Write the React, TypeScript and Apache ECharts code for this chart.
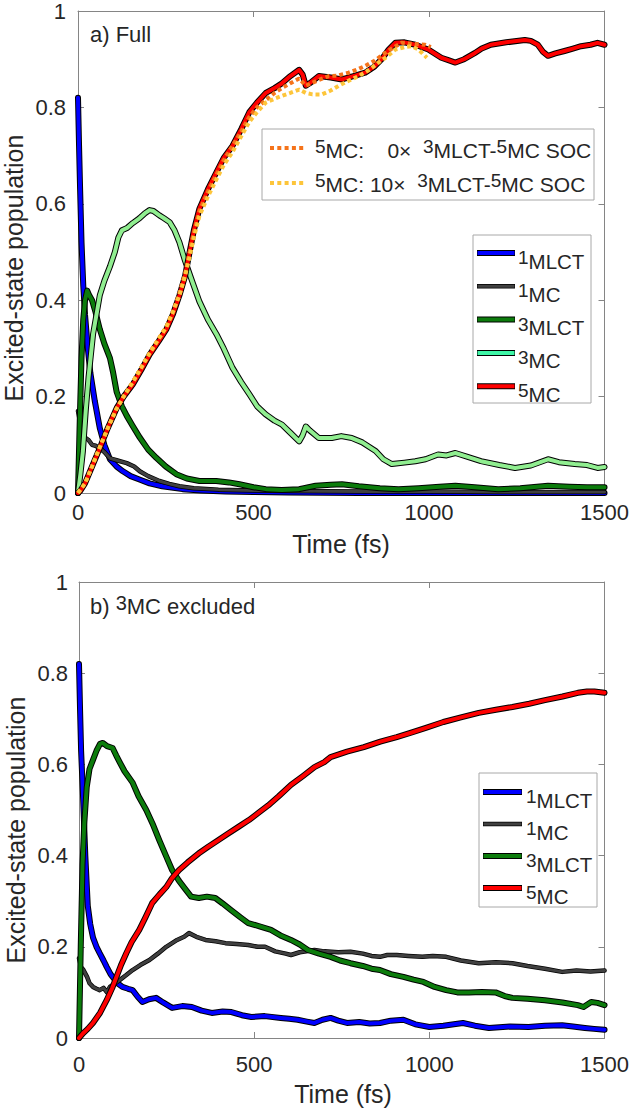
import React, { useEffect, useRef } from 'react';
import * as echarts from 'echarts';

// ---------- tick values ----------
const X_TICK_MIN = 0;
const X_TICK_MAX = 1500;
const X_TICK_STEP = 500;
const Y_TICK_MIN = 0;
const Y_TICK_MAX = 1;
const Y_TICK_STEP = 0.2;

// ---------- legend labels ----------
const STATE_LABELS_A = [['1', 'MLCT'], ['1', 'MC'], ['3', 'MLCT'], ['3', 'MC'], ['5', 'MC']];
const STATE_LABELS_B = [['1', 'MLCT'], ['1', 'MC'], ['3', 'MLCT'], ['5', 'MC']];

// ---------- panel a) Full : [time fs, population] ----------
const mlct1A = [[0,0.82],[3,0.72],[6,0.63],[10,0.52],[15,0.43],[20,0.37],[28,0.30],[35,0.25],[48,0.19],[62,0.135],[75,0.10],[91,0.07],[110,0.055],[128,0.045],[150,0.035],[175,0.028],[204,0.02],[240,0.014],[298,0.008],[350,0.005],[420,0.003],[500,0.002],[600,0.001],[800,0],[1000,0],[1200,0],[1500,0]];
const mc1A = [[0,0.17],[5,0.15],[10,0.135],[20,0.115],[30,0.11],[40,0.10],[50,0.098],[62,0.093],[75,0.085],[91,0.072],[110,0.068],[139,0.062],[160,0.055],[176,0.045],[200,0.035],[232,0.025],[260,0.019],[289,0.014],[330,0.01],[400,0.007],[500,0.005],[600,0.004],[800,0.003],[1000,0.003],[1200,0.002],[1500,0.002]];
const mlct3A = [[0,0],[5,0.15],[10,0.28],[15,0.36],[20,0.40],[26,0.42],[32,0.41],[40,0.40],[50,0.375],[62,0.34],[75,0.31],[91,0.28],[100,0.25],[110,0.21],[125,0.18],[139,0.16],[155,0.14],[176,0.115],[200,0.09],[223,0.073],[250,0.055],[280,0.039],[310,0.03],[346,0.025],[394,0.025],[430,0.022],[460,0.018],[500,0.012],[535,0.008],[580,0.006],[630,0.008],[677,0.015],[720,0.017],[752,0.018],[800,0.014],[860,0.01],[913,0.008],[970,0.01],[1030,0.013],[1075,0.015],[1130,0.012],[1197,0.008],[1260,0.01],[1339,0.015],[1400,0.013],[1450,0.012],[1500,0.012]];
const mc3A = [[0,0],[7,0.04],[14,0.087],[22,0.17],[30,0.24],[43,0.33],[55,0.38],[62,0.41],[75,0.44],[91,0.47],[105,0.50],[115,0.53],[125,0.545],[140,0.55],[156,0.56],[175,0.57],[190,0.58],[204,0.587],[215,0.585],[232,0.576],[245,0.57],[261,0.562],[275,0.545],[289,0.52],[303,0.486],[320,0.45],[346,0.397],[370,0.36],[394,0.33],[415,0.30],[440,0.26],[465,0.23],[488,0.205],[510,0.18],[535,0.163],[560,0.15],[581,0.142],[605,0.125],[630,0.107],[640,0.12],[649,0.138],[660,0.13],[686,0.114],[723,0.114],[750,0.118],[780,0.114],[810,0.105],[848,0.087],[870,0.07],[894,0.06],[930,0.063],[961,0.066],[990,0.07],[1026,0.08],[1050,0.078],[1075,0.083],[1110,0.075],[1148,0.066],[1200,0.058],[1245,0.052],[1290,0.057],[1339,0.07],[1370,0.064],[1415,0.06],[1450,0.058],[1480,0.052],[1500,0.054]];
const mc5A = [[0,0],[6,0.004],[20,0.02],[40,0.055],[62,0.093],[85,0.135],[110,0.176],[130,0.2],[156,0.225],[180,0.255],[204,0.287],[230,0.315],[252,0.34],[270,0.37],[289,0.41],[305,0.45],[318,0.5],[330,0.545],[346,0.59],[370,0.63],[394,0.665],[415,0.695],[440,0.72],[465,0.755],[488,0.79],[510,0.81],[535,0.83],[560,0.84],[581,0.85],[605,0.865],[630,0.878],[640,0.868],[649,0.845],[660,0.85],[686,0.865],[720,0.862],[752,0.858],[785,0.865],[818,0.872],[845,0.885],[865,0.9],[885,0.92],[904,0.934],[930,0.935],[961,0.93],[998,0.92],[1035,0.903],[1055,0.898],[1075,0.893],[1100,0.9],[1131,0.913],[1150,0.922],[1176,0.93],[1220,0.935],[1273,0.94],[1290,0.938],[1310,0.93],[1325,0.915],[1339,0.907],[1360,0.912],[1386,0.917],[1410,0.922],[1433,0.927],[1460,0.93],[1480,0.934],[1500,0.93]];
const mc5Soc0A = [[0,0],[20,0.02],[40,0.055],[62,0.095],[85,0.135],[110,0.175],[130,0.2],[156,0.23],[180,0.26],[204,0.29],[230,0.32],[252,0.345],[270,0.375],[289,0.415],[305,0.455],[318,0.5],[330,0.54],[346,0.585],[370,0.625],[394,0.66],[415,0.69],[440,0.72],[465,0.75],[488,0.78],[510,0.80],[535,0.815],[560,0.83],[581,0.84],[605,0.85],[630,0.86],[649,0.845],[680,0.855],[714,0.865],[740,0.866],[771,0.872],[800,0.88],[818,0.886],[845,0.897],[875,0.913],[900,0.925],[922,0.934],[950,0.932],[989,0.93],[1005,0.925]];
const mc5Soc10A = [[0,0],[20,0.02],[40,0.055],[62,0.095],[85,0.135],[110,0.175],[130,0.2],[156,0.23],[180,0.26],[204,0.29],[230,0.32],[252,0.345],[270,0.375],[289,0.41],[305,0.45],[318,0.49],[330,0.53],[346,0.575],[370,0.615],[394,0.65],[415,0.68],[440,0.707],[465,0.74],[488,0.77],[510,0.79],[535,0.81],[560,0.818],[581,0.824],[605,0.83],[630,0.837],[649,0.83],[668,0.827],[695,0.827],[720,0.835],[743,0.845],[770,0.855],[800,0.865],[830,0.878],[856,0.893],[880,0.905],[904,0.92],[930,0.925],[951,0.927],[970,0.92],[980,0.913],[994,0.903]];

// ---------- panel b) 3MC excluded ----------
const mlct1B = [[0,0.82],[3,0.72],[6,0.63],[11,0.54],[18,0.40],[25,0.29],[32,0.25],[40,0.22],[50,0.2],[59,0.186],[70,0.17],[79,0.156],[90,0.14],[96,0.134],[110,0.12],[124,0.112],[140,0.108],[153,0.105],[168,0.09],[181,0.079],[200,0.085],[220,0.088],[240,0.078],[266,0.066],[295,0.07],[322,0.068],[350,0.06],[379,0.055],[410,0.058],[435,0.057],[465,0.05],[492,0.046],[530,0.048],[576,0.044],[600,0.042],[624,0.04],[650,0.036],[672,0.033],[695,0.04],[718,0.044],[740,0.038],[765,0.033],[800,0.035],[830,0.032],[859,0.033],[890,0.038],[926,0.04],[960,0.03],[1000,0.024],[1040,0.027],[1070,0.03],[1096,0.033],[1130,0.027],[1170,0.022],[1230,0.025],[1283,0.024],[1330,0.027],[1379,0.028],[1410,0.025],[1444,0.022],[1470,0.02],[1500,0.018]];
const mc1B = [[0,0.175],[6,0.155],[12,0.15],[23,0.134],[30,0.12],[40,0.112],[50,0.108],[59,0.105],[70,0.11],[80,0.1],[88,0.112],[100,0.118],[116,0.127],[135,0.138],[153,0.149],[175,0.16],[201,0.171],[225,0.185],[249,0.2],[280,0.215],[300,0.222],[314,0.23],[335,0.222],[361,0.215],[390,0.212],[418,0.208],[450,0.206],[483,0.204],[510,0.2],[531,0.2],[560,0.19],[590,0.185],[605,0.182],[630,0.188],[672,0.193],[700,0.19],[740,0.188],[775,0.189],[810,0.185],[835,0.18],[859,0.178],[880,0.182],[907,0.182],[940,0.18],[980,0.178],[1010,0.18],[1048,0.178],[1090,0.17],[1141,0.164],[1190,0.166],[1237,0.164],[1280,0.158],[1330,0.152],[1379,0.145],[1420,0.148],[1460,0.146],[1500,0.148]];
const mlct3B = [[0,0],[5,0.2],[10,0.38],[15,0.47],[22,0.55],[30,0.59],[40,0.61],[50,0.63],[60,0.645],[68,0.647],[80,0.64],[96,0.636],[106,0.62],[116,0.605],[130,0.585],[153,0.56],[170,0.53],[192,0.5],[210,0.47],[229,0.434],[248,0.4],[266,0.368],[285,0.345],[305,0.325],[320,0.31],[342,0.307],[365,0.31],[389,0.307],[410,0.295],[435,0.28],[460,0.265],[483,0.252],[515,0.245],[548,0.237],[575,0.225],[605,0.215],[630,0.205],[653,0.193],[685,0.185],[718,0.178],[745,0.17],[775,0.164],[810,0.158],[835,0.152],[859,0.149],[890,0.14],[926,0.134],[955,0.128],[983,0.123],[1015,0.112],[1048,0.105],[1080,0.1],[1113,0.1],[1150,0.101],[1189,0.1],[1215,0.092],[1237,0.088],[1280,0.086],[1330,0.083],[1380,0.078],[1424,0.072],[1440,0.068],[1462,0.079],[1480,0.077],[1500,0.072]];
const mc5B = [[0,0],[11,0.01],[25,0.02],[40,0.033],[60,0.055],[79,0.083],[95,0.11],[107,0.134],[120,0.16],[135,0.186],[150,0.21],[172,0.237],[190,0.265],[209,0.296],[230,0.315],[249,0.331],[265,0.35],[285,0.368],[310,0.385],[342,0.405],[370,0.42],[398,0.434],[425,0.448],[455,0.463],[485,0.478],[511,0.493],[540,0.51],[570,0.53],[605,0.555],[640,0.575],[672,0.594],[700,0.605],[718,0.616],[765,0.628],[813,0.638],[860,0.65],[907,0.66],[950,0.67],[990,0.68],[1040,0.693],[1090,0.703],[1141,0.713],[1190,0.72],[1237,0.726],[1285,0.733],[1330,0.741],[1380,0.749],[1424,0.757],[1450,0.76],[1471,0.76],[1500,0.757]];

const FONT = 'Liberation Sans, Arial, Helvetica, sans-serif';
const TXT = '#262626';
const AX = '#858585';

const C_BLUE = '#0000ff';
const C_GRAY = '#404040';
const C_DGREEN = '#0c7c0c';
const C_LGREEN = '#90ee90';
const C_LEG3MC = '#3ef5a6';
const C_RED = '#ff0000';
const C_ORANGE = '#f5731a';
const C_YELLOW = '#fdc53a';

function outlined(data: number[][], color: string, w: number, ow: number, idx: number) {
  const base = {
    type: 'line',
    data,
    showSymbol: false,
    symbol: 'none',
    silent: true,
    xAxisIndex: idx,
    yAxisIndex: idx,
  };
  return [
    { ...base, lineStyle: { color: '#000', width: ow, join: 'round', cap: 'round' } },
    { ...base, lineStyle: { color, width: w, join: 'round', cap: 'round' } },
  ];
}

function dotted(data: number[][], color: string, idx: number) {
  return {
    type: 'line',
    data,
    showSymbol: false,
    symbol: 'none',
    silent: true,
    xAxisIndex: idx,
    yAxisIndex: idx,
    lineStyle: { color, width: 4, type: [4, 3], cap: 'butt' },
  };
}

function xAxes(grid: number, margin: number) {
  const common = {
    type: 'value',
    gridIndex: grid,
    min: X_TICK_MIN,
    max: X_TICK_MAX,
    interval: X_TICK_STEP,
    splitLine: { show: false },
    axisLine: { show: true, onZero: false, lineStyle: { color: AX, width: 1 } },
    axisTick: { show: true, inside: true, length: 6, lineStyle: { color: AX } },
  };
  return [
    {
      ...common,
      position: 'bottom',
      axisLabel: {
        show: true,
        margin,
        color: TXT,
        fontSize: 22,
        fontFamily: FONT,
        formatter: (v: number) => String(Math.round(v)),
      },
    },
    { ...common, position: 'top', axisLabel: { show: false } },
  ];
}

function yAxes(grid: number, margin: number) {
  const common = {
    type: 'value',
    gridIndex: grid,
    min: Y_TICK_MIN,
    max: Y_TICK_MAX,
    interval: Y_TICK_STEP,
    splitLine: { show: false },
    axisLine: { show: true, onZero: false, lineStyle: { color: AX, width: 1 } },
    axisTick: { show: true, inside: true, length: 6, lineStyle: { color: AX } },
  };
  return [
    {
      ...common,
      position: 'left',
      axisLabel: {
        show: true,
        margin,
        color: TXT,
        fontSize: 22,
        fontFamily: FONT,
        formatter: (v: number) => (v === 0 ? '0' : v === 1 ? '1' : String(Math.round(v * 10) / 10)),
      },
    },
    { ...common, position: 'right', axisLabel: { show: false } },
  ];
}

const richSup = (size: number, lh: number) => ({
  fontSize: size,
  fontFamily: FONT,
  fill: TXT,
  color: TXT,
  lineHeight: lh,
  verticalAlign: 'top',
});
const richMain = (size: number) => ({
  fontSize: size,
  fontFamily: FONT,
  fill: TXT,
  color: TXT,
  lineHeight: 26,
});

function richText(x: number, y: number, text: string, mainSize: number, supSize: number, supLH: number) {
  return {
    type: 'text',
    z: 100,
    silent: true,
    style: {
      x,
      y,
      text,
      textAlign: 'left',
      textVerticalAlign: 'middle',
      verticalAlign: 'middle',
      fill: TXT,
      font: `${mainSize}px ${FONT}`,
      rich: { s: richSup(supSize, supLH), n: richMain(mainSize) },
    },
  };
}

function legendLine(x1: number, x2: number, y: number, color: string, w: number, ow: number) {
  return [
    { type: 'line', z: 101, silent: true, shape: { x1, y1: y, x2, y2: y }, style: { stroke: '#000', lineWidth: ow } },
    { type: 'line', z: 102, silent: true, shape: { x1: x1 + 0.5, y1: y, x2: x2 - 0.5, y2: y }, style: { stroke: color, lineWidth: w } },
  ];
}

function stateLegend(
  box: { x: number; y: number; w: number; h: number },
  labels: string[][],
  colors: string[],
  widths: number[][],
  lineX1: number,
  lineX2: number,
  textX: number,
  y0: number,
  dy: number,
) {
  const els: any[] = [
    { type: 'rect', z: 99, silent: true, shape: { x: box.x, y: box.y, width: box.w, height: box.h }, style: { fill: '#fff', stroke: '#a8a8a8', lineWidth: 1 } },
  ];
  labels.forEach((lab, i) => {
    const y = y0 + i * dy;
    els.push(...legendLine(lineX1, lineX2, y, colors[i], widths[i][0], widths[i][1]));
    els.push(richText(textX, y + 8, `{s|${lab[0]}}{n|${lab[1]}}`, 20.5, 19, 10));
  });
  return els;
}

function titleText(x: number, y: number, text: string, rotate: boolean) {
  return {
    type: 'text',
    z: 100,
    silent: true,
    x,
    y,
    rotation: rotate ? Math.PI / 2 : 0,
    style: {
      text,
      x: 0,
      y: 0,
      textAlign: 'center',
      textVerticalAlign: 'middle',
      verticalAlign: 'middle',
      align: 'center',
      fill: TXT,
      font: `25px ${FONT}`,
    },
  };
}

export default function App() {
  const ref = useRef<HTMLDivElement>(null);
  useEffect(() => {
    if (!ref.current) return;
    const chart = echarts.init(ref.current, undefined, { renderer: 'svg' });

    const series: any[] = [
      ...outlined(mlct1A, C_BLUE, 4, 6, 0),
      ...outlined(mc1A, C_GRAY, 3, 4.5, 0),
      ...outlined(mlct3A, C_DGREEN, 4, 6, 0),
      ...outlined(mc3A, C_LGREEN, 4, 6, 0),
      ...outlined(mc5A, C_RED, 4, 6, 0),
      dotted(mc5Soc0A, C_ORANGE, 0),
      dotted(mc5Soc10A, C_YELLOW, 0),
      ...outlined(mlct1B, C_BLUE, 4, 6, 2),
      ...outlined(mc1B, C_GRAY, 3, 4.5, 2),
      ...outlined(mlct3B, C_DGREEN, 4, 6, 2),
      ...outlined(mc5B, C_RED, 4, 6, 2),
    ];

    const widthsA = [[4, 6], [3, 4.5], [4, 6], [4, 6], [4, 6]];
    const widthsB = [[4, 6], [3, 4.5], [4, 6], [4, 6]];

    const graphic: any[] = [
      // panel labels
      richText(90, 34, '{n|a) Full}', 22, 18, 10),
      richText(90, 606, '{n|b) }{s|3}{n|MC excluded}', 22, 20, 12),
      // axis titles
      titleText(14, 268, 'Excited-state population', true),
      titleText(16, 830, 'Excited-state population', true),
      titleText(341, 544, 'Time (fs)', false),
      titleText(343, 1094, 'Time (fs)', false),
      // SOC legend
      { type: 'rect', z: 99, silent: true, shape: { x: 262, y: 129, width: 332, height: 71 }, style: { fill: '#fff', stroke: '#a8a8a8', lineWidth: 1 } },
      { type: 'line', z: 101, silent: true, shape: { x1: 270, y1: 148, x2: 304, y2: 148 }, style: { stroke: C_ORANGE, lineWidth: 4, lineDash: [4, 3.3] } },
      { type: 'line', z: 101, silent: true, shape: { x1: 270, y1: 183, x2: 304, y2: 183 }, style: { stroke: C_YELLOW, lineWidth: 4, lineDash: [4, 3.3] } },
      richText(315, 150, '{s|5}{n|MC:    0×  }{s|3}{n|MLCT-}{s|5}{n|MC SOC}', 21, 19, 10),
      richText(315, 184, '{s|5}{n|MC: 10×  }{s|3}{n|MLCT-}{s|5}{n|MC SOC}', 21, 19, 10),
      // state legends
      ...stateLegend({ x: 473, y: 235, w: 118, h: 168 }, STATE_LABELS_A, [C_BLUE, C_GRAY, C_DGREEN, C_LEG3MC, C_RED], widthsA, 477, 515, 518, 253, 33.3),
      ...stateLegend({ x: 479, y: 773, w: 118, h: 134 }, STATE_LABELS_B, [C_BLUE, C_GRAY, C_DGREEN, C_RED], widthsB, 483, 522, 526, 792, 32),
    ];

    chart.setOption({
      animation: false,
      backgroundColor: '#fff',
      textStyle: { fontFamily: FONT },
      grid: [
        { left: 78, top: 8, width: 530, height: 485, containLabel: false },
        { left: 79, top: 582, width: 531, height: 456, containLabel: false },
      ],
      xAxis: [...xAxes(0, 8), ...xAxes(1, 15)],
      yAxis: [...yAxes(0, 12), ...yAxes(1, 11)],
      series,
      graphic,
    });
    return () => chart.dispose();
  }, []);
  return <div ref={ref} style={{ position: 'absolute', left: 0, top: 0, width: 632, height: 1109, background: '#fff' }} />;
}
